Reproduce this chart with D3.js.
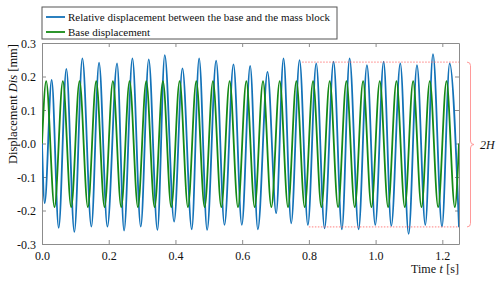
<!DOCTYPE html>
<html>
<head>
<meta charset="utf-8">
<script src="https://cdn.jsdelivr.net/npm/d3@7"></script>
<style>
  body { margin: 0; background: #fff; }
  svg { display: block; font-family: "Liberation Serif", "Times New Roman", serif; }
</style>
</head>
<body>
<div id="visualization"></div>
<script>
// ---------DATA---------
// peaks / troughs, time in s, displacement in mm
var relTime = [0, 0.008, 0.029, 0.050, 0.073, 0.097, 0.121, 0.148, 0.171, 0.196, 0.225, 0.246,
    0.271, 0.296, 0.320, 0.346, 0.368, 0.396, 0.421, 0.449, 0.471, 0.495, 0.522, 0.547,
    0.574, 0.599, 0.624, 0.647, 0.676, 0.702, 0.724, 0.747, 0.772, 0.797, 0.822, 0.847,
    0.874, 0.899, 0.922, 0.949, 0.974, 0.999, 1.024, 1.047, 1.074, 1.099, 1.124, 1.149,
    1.172, 1.199, 1.222, 1.250];
var relDisp = [0, -0.178, 0.190, -0.252, 0.223, -0.264, 0.254, -0.248, 0.241, -0.248, 0.239, -0.260,
    0.254, -0.248, 0.251, -0.258, 0.264, -0.233, 0.224, -0.256, 0.254, -0.258, 0.247, -0.243,
    0.236, -0.243, 0.232, -0.256, 0.214, -0.208, 0.254, -0.238, 0.249, -0.243, 0.239, -0.253,
    0.244, -0.256, 0.254, -0.256, 0.234, -0.243, 0.244, -0.246, 0.239, -0.270, 0.234, -0.243,
    0.267, -0.248, 0.239, -0.250];

var baseTime = [0, 0.0125, 0.0375, 0.0625, 0.0875, 0.1125, 0.1375, 0.1625, 0.1875, 0.2125, 0.2375,
    0.2625, 0.2875, 0.3125, 0.3375, 0.3625, 0.3875, 0.4125, 0.4375, 0.4625, 0.4875,
    0.5125, 0.5375, 0.5625, 0.5875, 0.6125, 0.6375, 0.6625, 0.6875, 0.7125, 0.7375,
    0.7625, 0.7875, 0.8125, 0.8375, 0.8625, 0.8875, 0.9125, 0.9375, 0.9625, 0.9875,
    1.0125, 1.0375, 1.0625, 1.0875, 1.1125, 1.1375, 1.1625, 1.1875, 1.2125, 1.2375, 1.25];
var baseDisp = [0, 0.186, -0.190, 0.186, -0.190, 0.186, -0.190, 0.186, -0.190, 0.186, -0.190,
    0.186, -0.190, 0.186, -0.190, 0.186, -0.190, 0.186, -0.190, 0.186, -0.190,
    0.186, -0.190, 0.186, -0.190, 0.186, -0.190, 0.186, -0.190, 0.186, -0.190,
    0.186, -0.190, 0.186, -0.190, 0.186, -0.190, 0.186, -0.190, 0.186, -0.190,
    0.186, -0.190, 0.186, -0.190, 0.186, -0.190, 0.186, -0.190, 0.186, -0.190, 0];

var xTicks = [0, 0.2, 0.4, 0.6, 0.8, 1.0, 1.2];
var yTicks = [-0.3, -0.2, -0.1, 0, 0.1, 0.2, 0.3];

// 2H marker lines: start time and level
var hStart = [0.78, 0.80];
var hLevel = [0.243, -0.249];

var legendNames = ["Relative displacement between the base and the mass block", "Base displacement"];
var colors = ["#1372b8", "#158a15"];

// ---------SETUP---------
var W = 500, H = 281;
var margin = {top: 43, right: 41, bottom: 37, left: 42};
var width = W - margin.left - margin.right;
var height = H - margin.top - margin.bottom;

var svg = d3.select("#visualization").append("svg")
    .attr("width", W)
    .attr("height", H);

var x = d3.scaleLinear().domain([0, 1.25]).range([0, width]);
var y = d3.scaleLinear().domain([-0.3, 0.3]).range([height, 0]);

var g = svg.append("g").attr("transform", "translate(" + margin.left + "," + margin.top + ")");

g.append("clipPath").attr("id", "clip")
    .append("rect").attr("width", width).attr("height", height);

// ---------AXES---------
var fmt = function(d) { return d.toFixed(1); };
var axisColor = "#8c8c8c";

function styleAxis(sel, showText) {
    sel.attr("font-family", null);
    sel.select(".domain").attr("stroke", axisColor).attr("stroke-width", 1);
    sel.selectAll(".tick line").attr("stroke", axisColor);
    sel.selectAll(".tick text").attr("fill", "#111").style("font-size", "12px")
        .style("display", showText ? null : "none");
}

g.append("g").attr("transform", "translate(0," + height + ")")
    .call(d3.axisBottom(x).tickValues(xTicks).tickFormat(fmt).tickSizeInner(-4).tickSizeOuter(0).tickPadding(7))
    .call(styleAxis, true);
g.append("g")
    .call(d3.axisTop(x).tickValues(xTicks).tickSizeInner(-4).tickSizeOuter(0))
    .call(styleAxis, false);
g.append("g")
    .call(d3.axisLeft(y).tickValues(yTicks).tickFormat(fmt).tickSizeInner(-4).tickSizeOuter(0).tickPadding(6))
    .call(styleAxis, true);
g.append("g").attr("transform", "translate(" + width + ",0)")
    .call(d3.axisRight(y).tickValues(yTicks).tickSizeInner(-4).tickSizeOuter(0))
    .call(styleAxis, false);

g.selectAll(".tick text").attr("dy", function() {
    return d3.select(this.parentNode.parentNode).attr("transform") ? "0.71em" : "0.34em";
});

// ---------LINES---------
var line = d3.line()
    .x(function(d) { return x(d[0]); })
    .y(function(d) { return y(d[1]); })
    .curve(d3.curveMonotoneX);

var relData = relTime.map(function(t, i) { return [t, relDisp[i]]; });
var baseData = baseTime.map(function(t, i) { return [t, baseDisp[i]]; });

var plot = g.append("g").attr("clip-path", "url(#clip)");

plot.append("path").datum(relData)
    .attr("d", line)
    .attr("fill", "none")
    .attr("stroke", colors[0])
    .attr("stroke-width", 1.8);

plot.append("path").datum(baseData)
    .attr("d", line)
    .attr("fill", "none")
    .attr("stroke", colors[1])
    .attr("stroke-width", 1.8);

// ---------2H MARK---------
g.selectAll(".hline")
    .data(hLevel)
    .enter().append("line")
    .attr("class", "hline")
    .attr("x1", function(d, i) { return x(hStart[i]); })
    .attr("x2", width)
    .attr("y1", function(d) { return y(d); })
    .attr("y2", function(d) { return y(d); })
    .attr("stroke", "#ff6060")
    .attr("stroke-width", 0.8)
    .attr("stroke-dasharray", "1.5,1.5");

var bx = width + 8, q = 3.5;
var yt = y(hLevel[0]), yb = y(hLevel[1]), ym = (yt + yb) / 2;
g.append("path")
    .attr("d", "M" + bx + "," + yt +
        "Q" + (bx + q) + "," + yt + " " + (bx + q) + "," + (yt + q) +
        "L" + (bx + q) + "," + (ym - q) +
        "Q" + (bx + q) + "," + ym + " " + (bx + 2 * q) + "," + ym +
        "Q" + (bx + q) + "," + ym + " " + (bx + q) + "," + (ym + q) +
        "L" + (bx + q) + "," + (yb - q) +
        "Q" + (bx + q) + "," + yb + " " + bx + "," + yb)
    .attr("fill", "none")
    .attr("stroke", "#ff9a9a")
    .attr("stroke-width", 1);

g.append("text")
    .attr("x", bx + 13)
    .attr("y", ym + 4)
    .style("font-size", "12px")
    .style("font-style", "italic")
    .attr("fill", "#111")
    .text("2H");

// ---------LABELS---------
// x label built from pieces placed right to left so the italic part doesn't collide
var xLabelParts = [["[s]", "normal"], ["t", "italic"], ["Time", "normal"]];
var xPos = width;
xLabelParts.forEach(function(p) {
    var t = g.append("text")
        .attr("x", xPos)
        .attr("y", height + 29)
        .attr("text-anchor", "end")
        .style("font-size", "12px")
        .style("font-style", p[1])
        .attr("fill", "#111")
        .text(p[0]);
    xPos -= t.node().getComputedTextLength() + 3.5;
});

svg.append("text")
    .attr("transform", "translate(17,104) rotate(-90)")
    .attr("text-anchor", "middle")
    .style("font-size", "12.5px")
    .attr("fill", "#111")
    .text("Displacement ")
    .call(function(t) {
        t.append("tspan").style("font-style", "italic").text("Dis");
        t.append("tspan").attr("dx", 3).text("[mm]");
    });

// ---------LEGEND---------
var legend = svg.append("g").attr("transform", "translate(42,7)");
legend.append("rect")
    .attr("width", 295)
    .attr("height", 32)
    .attr("fill", "#fff")
    .attr("stroke", "#555")
    .attr("stroke-width", 1);

var item = legend.selectAll(".item")
    .data(legendNames)
    .enter().append("g")
    .attr("class", "item")
    .attr("transform", function(d, i) { return "translate(0," + (10 + i * 15) + ")"; });

item.append("line")
    .attr("x1", 4).attr("x2", 23)
    .attr("stroke", function(d, i) { return colors[i]; })
    .attr("stroke-width", 1.8);

item.append("text")
    .attr("x", 26)
    .attr("dy", "0.35em")
    .style("font-size", "11px")
    .attr("fill", "#111")
    .text(function(d) { return d; });
</script>
</body>
</html>
